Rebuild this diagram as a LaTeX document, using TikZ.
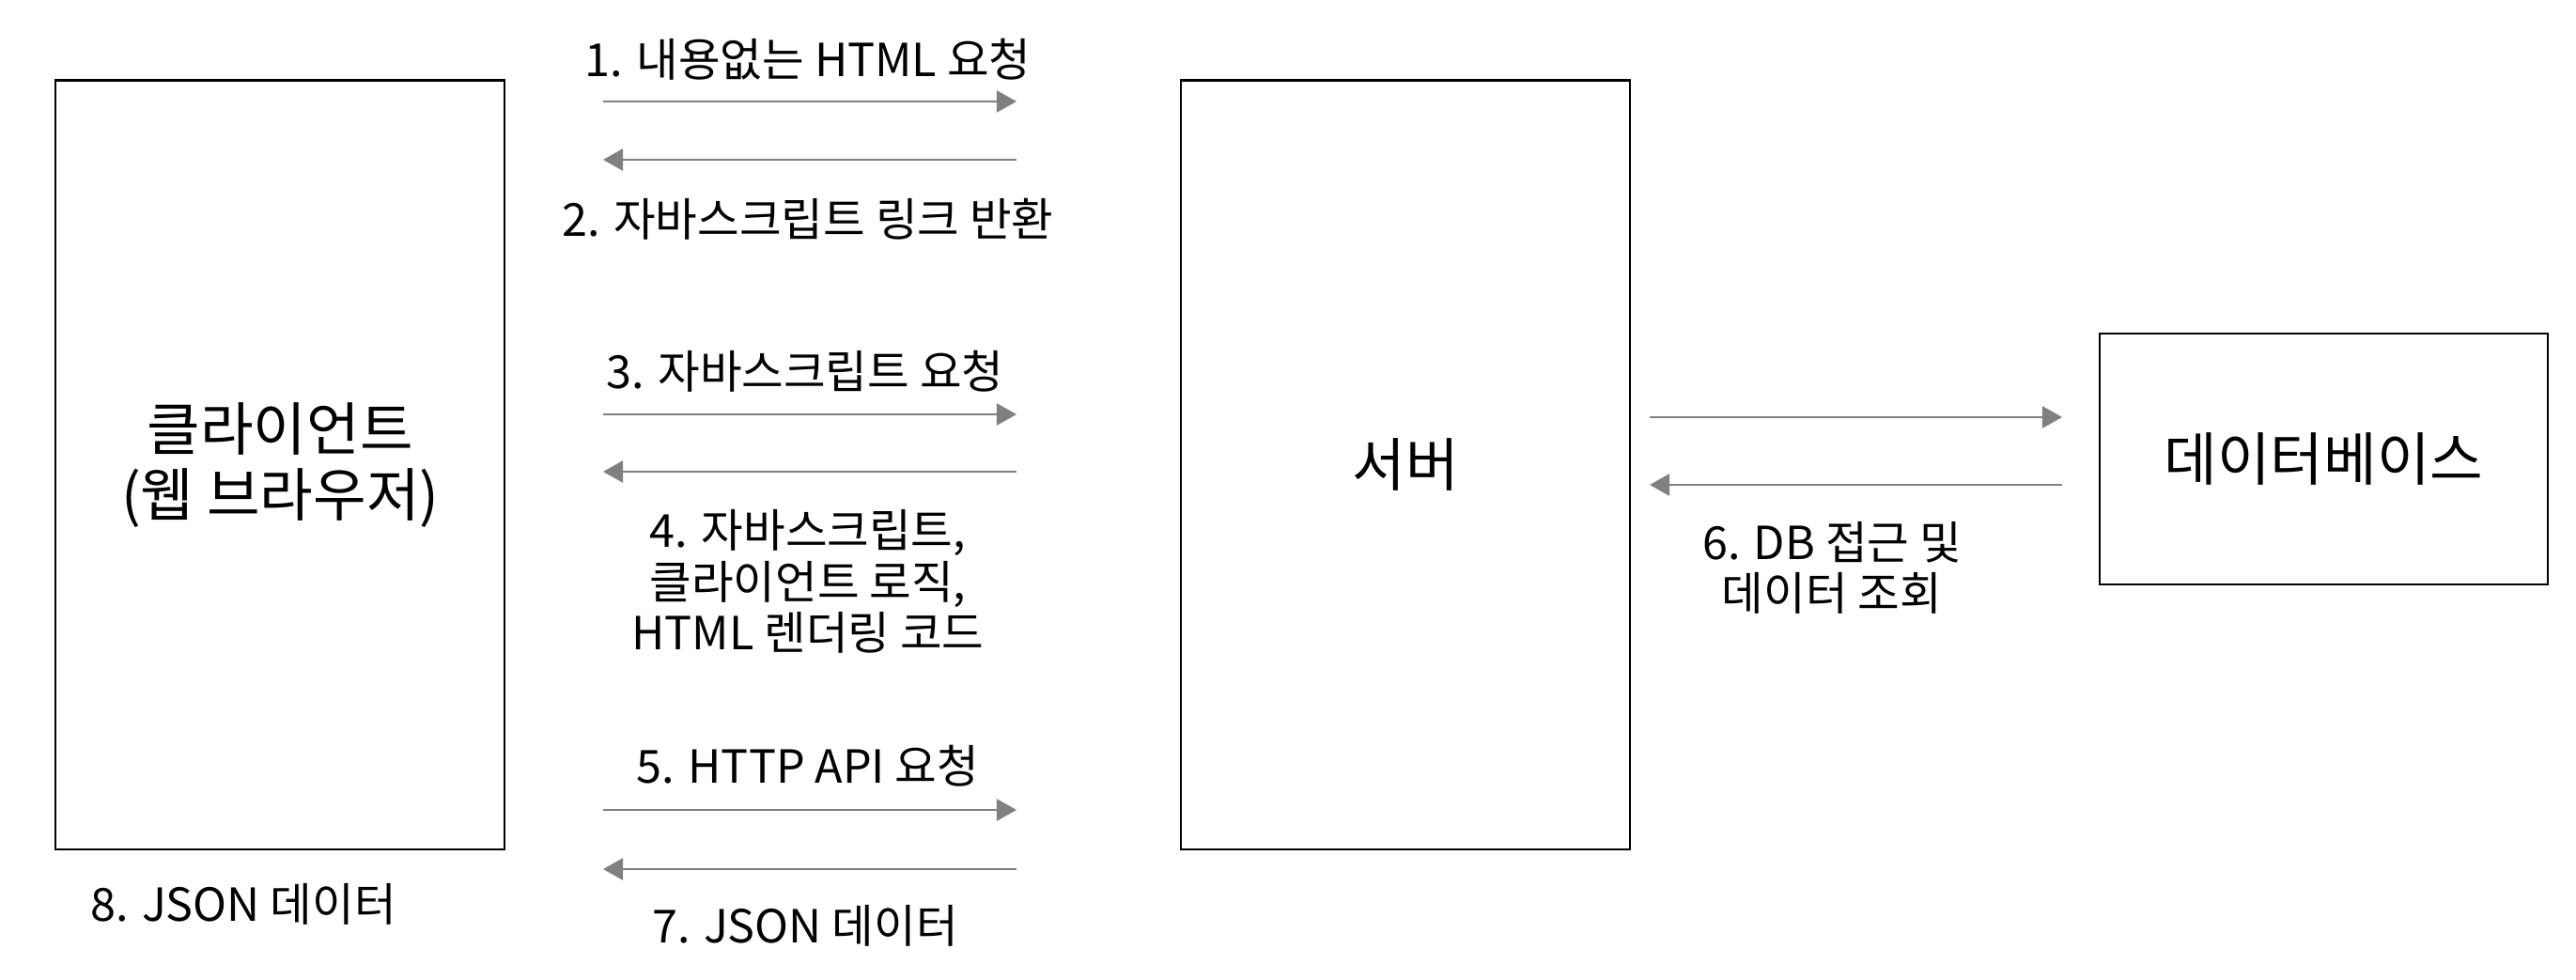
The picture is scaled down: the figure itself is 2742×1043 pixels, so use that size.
\documentclass[tikz,border=0pt]{standalone}
\usepackage{fontspec}
\setmainfont{Noto Sans CJK KR}
\usetikzlibrary{arrows.meta}
\begin{document}
\begin{tikzpicture}[x=0.01cm,y=-0.01cm,
  box/.style={draw=black,line width=0.6pt,fill=white,inner sep=0pt,align=center,font=\fontsize{17.5}{20}\selectfont},
  flow/.style={draw={rgb,255:red,128;green,128;blue,128},line width=0.65pt,-{Triangle[length=6pt,width=6.6pt]}},
  lbl/.style={font=\fontsize{13.8}{15.4}\selectfont,align=center,inner sep=0pt}]
\useasboundingbox (0,0) rectangle (2742,1043);
% boxes
\node[box,minimum width=4.775cm,minimum height=8.183cm] (client) at (298.25,494.85) {클라이언트\\(웹 브라우저)};
\node[box,minimum width=4.78cm,minimum height=8.183cm] (server) at (1496,494.85) {서버};
\node[box,minimum width=4.77cm,minimum height=2.67cm] (db) at (2473.5,488.5) {데이터베이스};
% coordinates of arrows
\coordinate (a1s) at (642,108);  \coordinate (a1e) at (1082,108);
\coordinate (a2s) at (1082,170); \coordinate (a2e) at (642,170);
\coordinate (a3s) at (642,441);  \coordinate (a3e) at (1082,441);
\coordinate (a4s) at (1082,502); \coordinate (a4e) at (642,502);
\coordinate (a5s) at (642,862);  \coordinate (a5e) at (1082,862);
\coordinate (a7s) at (1082,925); \coordinate (a7e) at (642,925);
\coordinate (b1s) at (1756,444); \coordinate (b1e) at (2195,444);
\coordinate (b2s) at (2195,516); \coordinate (b2e) at (1756,516);
\draw[flow] (a1s) -- (a1e);
\draw[flow] (a2s) -- (a2e);
\draw[flow] (a3s) -- (a3e);
\draw[flow] (a4s) -- (a4e);
\draw[flow] (a5s) -- (a5e);
\draw[flow] (a7s) -- (a7e);
\draw[flow] (b1s) -- (b1e);
\draw[flow] (b2s) -- (b2e);
% labels
\node[lbl] (l1) at (860,63) {1. 내용없는 HTML 요청};
\node[lbl] (l2) at (860,233) {2. 자바스크립트 링크 반환};
\node[lbl] (l3) at (857,395) {3. 자바스크립트 요청};
\node[lbl] (l4) at (860,619) {4. 자바스크립트,\\클라이언트 로직,\\HTML 렌더링 코드};
\node[lbl] (l5) at (860,815) {5. HTTP API 요청};
\node[lbl] (l7) at (857,985) {7. JSON 데이터};
\node[lbl] (l8) at (259,962) {8. JSON 데이터};
\node[lbl] (l6) at (1950,604) {6. DB 접근 및\\데이터 조회};
\end{tikzpicture}
\end{document}
